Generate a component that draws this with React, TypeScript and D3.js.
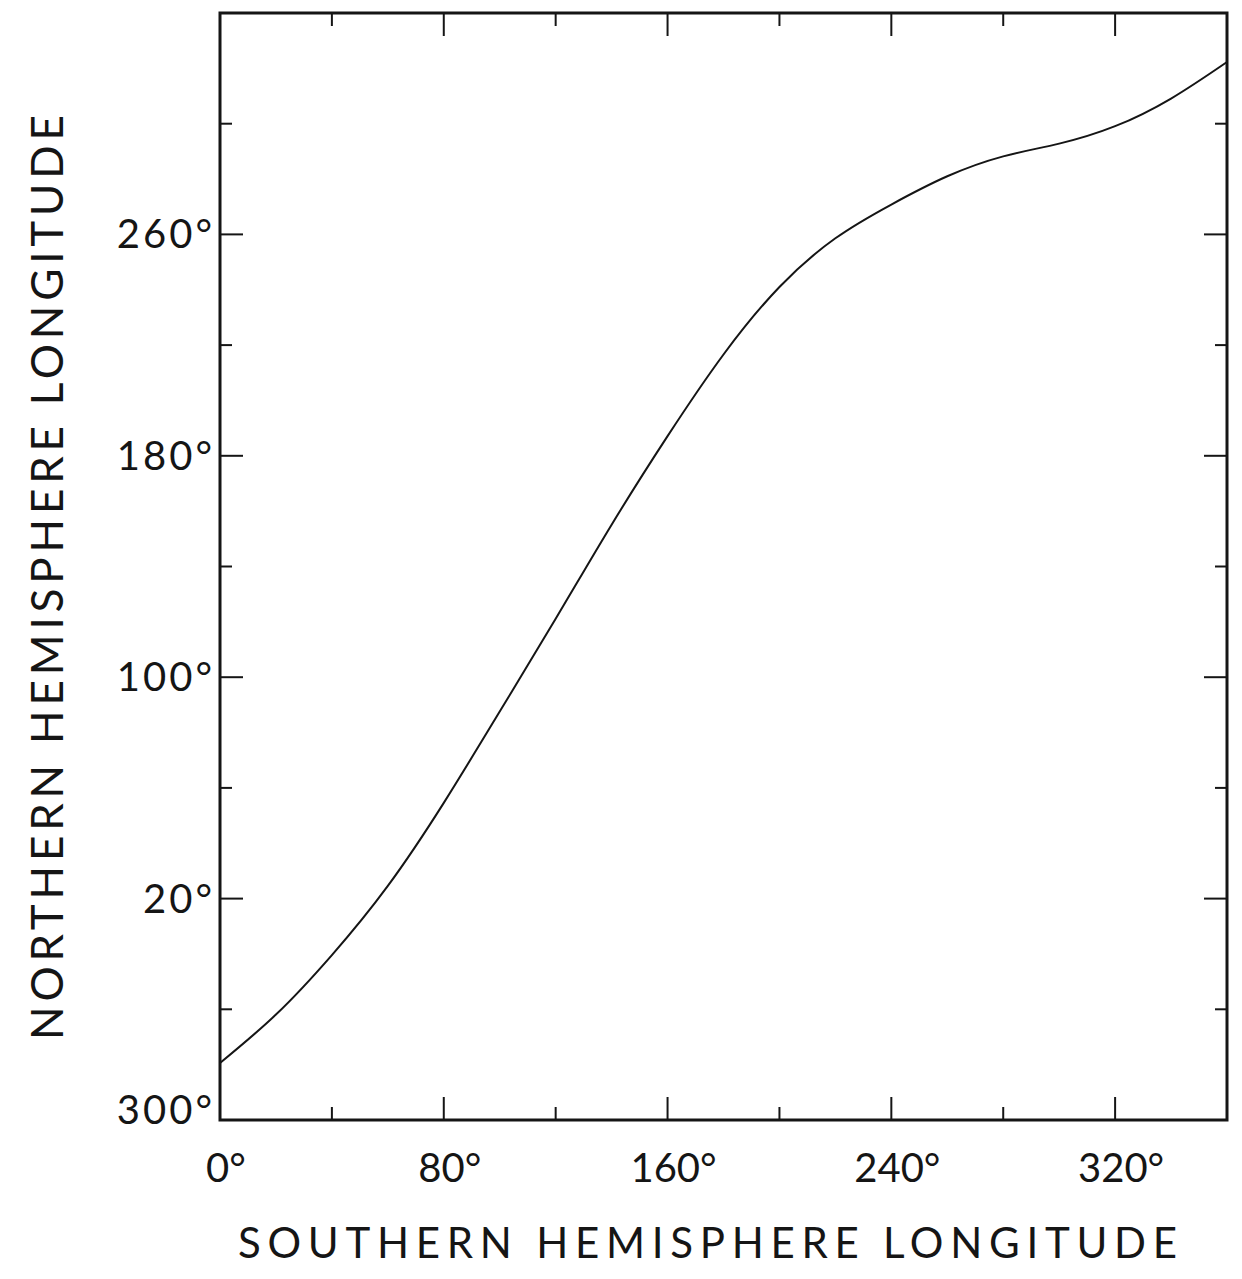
import React, { useEffect, useRef } from "react";
import * as d3 from "d3";

// southern hemisphere longitude (deg), read every 20 deg
const southLon = [0, 20, 40, 60, 80, 100, 120, 140, 160, 180, 200, 220, 240, 260, 280, 300, 320, 340, 360];
// northern hemisphere longitude, unwrapped (300..700 means 300..360..340)
const northLon = [320.6, 338.1, 359.6, 384.6, 414.6, 447.6, 481.1, 515.1, 547.1, 576.6, 601, 618.6, 630.8, 641, 648.2, 652.8, 659.1, 669.1, 682.3];

const xTickVals = [0, 40, 80, 120, 160, 200, 240, 280, 320, 360];
const xLabelVals = [0, 80, 160, 240, 320];
const yTickVals = [300, 340, 380, 420, 460, 500, 540, 580, 620, 660, 700];
const yLabelVals = [300, 380, 460, 540, 620];

const xTitle = "SOUTHERN  HEMISPHERE  LONGITUDE";
const yTitle = "NORTHERN  HEMISPHERE  LONGITUDE";

const App = () => {
  const ref = useRef(null);

  useEffect(() => {
    if (!ref.current) return;
    const svg = d3.select(ref.current);
    svg.selectAll("*").remove();

    const left = 220, right = 1227, top = 13, bottom = 1120;
    const ink = "#151515";
    const font = "Lato, 'DejaVu Sans', sans-serif";

    const x = d3.scaleLinear().domain([0, 360]).range([left, right]);
    const y = d3.scaleLinear().domain([300, 700]).range([bottom, top]);

    const isLongX = (v) => v % 80 === 0;
    const isLongY = (v) => (v - 300) % 80 === 0;

    // ticks, all pointing inward
    const g = svg.append("g").attr("stroke", ink).attr("stroke-width", 2);
    xTickVals.filter((v) => v > 0 && v < 360).forEach((v) => {
      const len = isLongX(v) ? 23 : 13;
      g.append("line").attr("x1", x(v)).attr("x2", x(v)).attr("y1", bottom).attr("y2", bottom - len);
      g.append("line").attr("x1", x(v)).attr("x2", x(v)).attr("y1", top).attr("y2", top + len);
    });
    yTickVals.filter((v) => v > 300 && v < 700).forEach((v) => {
      const len = isLongY(v) ? 23 : 12;
      g.append("line").attr("y1", y(v)).attr("y2", y(v)).attr("x1", left).attr("x2", left + len);
      g.append("line").attr("y1", y(v)).attr("y2", y(v)).attr("x1", right).attr("x2", right - len);
    });

    // frame
    svg.append("rect")
      .attr("x", left).attr("y", top)
      .attr("width", right - left).attr("height", bottom - top)
      .attr("fill", "none").attr("stroke", ink).attr("stroke-width", 3);

    // curve
    const line = d3.line()
      .x((d, i) => x(southLon[i]))
      .y((d) => y(d))
      .curve(d3.curveNatural);
    svg.append("path")
      .datum(northLon)
      .attr("fill", "none")
      .attr("stroke", ink)
      .attr("stroke-width", 2)
      .attr("d", line);

    // x labels
    svg.append("g").selectAll("text")
      .data(xLabelVals).enter().append("text")
      .attr("x", (d) => x(d) + 6)
      .attr("y", 1182)
      .attr("text-anchor", "middle")
      .attr("font-family", font)
      .attr("font-size", 40)
      .attr("fill", ink)
      .text((d) => `${d}°`);

    // y labels (wrapped longitudes)
    svg.append("g").selectAll("text")
      .data(yLabelVals).enter().append("text")
      .attr("x", 215)
      .attr("y", (d) => y(d) + 14 - (d === 300 ? 10 : 0))
      .attr("text-anchor", "end")
      .attr("font-family", font)
      .attr("font-size", 40)
      .attr("letter-spacing", 3)
      .attr("fill", ink)
      .text((d) => `${d % 360}°`);

    // axis titles
    svg.append("text")
      .attr("x", 238).attr("y", 1258)
      .attr("textLength", 939).attr("lengthAdjust", "spacing")
      .attr("font-family", font).attr("font-size", 42)
      .attr("fill", ink)
      .text(xTitle);

    svg.append("text")
      .attr("transform", "translate(63,1040) rotate(-90)")
      .attr("textLength", 925).attr("lengthAdjust", "spacing")
      .attr("font-family", font).attr("font-size", 44)
      .attr("fill", ink)
      .text(yTitle);
  }, []);

  return (
    <svg
      ref={ref}
      width={1242}
      height={1279}
      style={{ position: "absolute", left: 0, top: 0, background: "#fff" }}
    />
  );
};

export default App;
